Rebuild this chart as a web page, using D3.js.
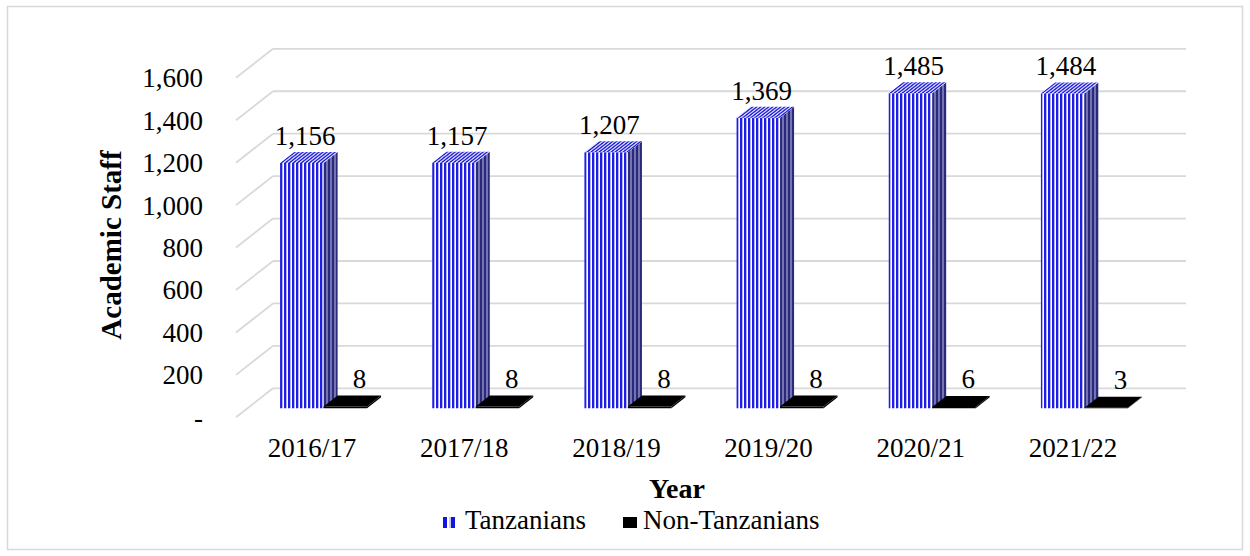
<!DOCTYPE html>
<html>
<head>
<meta charset="utf-8">
<script src="https://cdn.jsdelivr.net/npm/d3@7"></script>
<style>
  body { margin: 0; background: #fff; }
</style>
</head>
<body>
<svg id="chart" width="1250" height="556"></svg>
<script>
// Data
const years = ["2016/17", "2017/18", "2018/19", "2019/20", "2020/21", "2021/22"];
const seriesNames = ["Tanzanians", "Non-Tanzanians"];
const tanzanians = [1156, 1157, 1207, 1369, 1485, 1484];
const nonTanzanians = [8, 8, 8, 8, 6, 3];
const yTicks = [0, 200, 400, 600, 800, 1000, 1200, 1400, 1600];

// Config
const DEPTH_X = -37, DEPTH_Y = 29;        // back wall -> front plane
const Z_BACK = 0.31, Z_FRONT = 0.69;      // bar slab inside the box
const FONT = 27;
const SERIF = "'Liberation Serif', 'Times New Roman', Times, serif";
const GRID = "#d9d9d9";

const svg = d3.select("#chart");

const x = d3.scaleBand().domain(years).range([273, 1186]);
const inner = d3.scaleBand().domain(seriesNames).range([0, x.bandwidth()]).paddingOuter(0.75);
const y = d3.scaleLinear().domain([0, 1600]).range([388.3, 48.8]);

// project (back-wall x, value, depth z) onto the screen
const P = (xb, v, z) => [xb + DEPTH_X * z, y(v) + DEPTH_Y * z];

// Patterns
const defs = svg.append("defs");
const stripes = (id, bg, fg, extra, transform) => {
  const p = defs.append("pattern").attr("id", id)
    .attr("patternUnits", "userSpaceOnUse").attr("width", 4).attr("height", 4);
  if (transform) p.attr("patternTransform", transform);
  p.append("rect").attr("width", 4).attr("height", 4).attr("fill", bg);
  p.append("rect").attr("width", 2).attr("height", 4).attr("fill", fg);
  if (extra) p.append("rect").attr("x", 2).attr("width", 1).attr("height", 4).attr("fill", extra);
};
stripes("front", "#ffffff", "#1e1ee6", "#b4b4f5");
stripes("side", "#7474b4", "#2a2a78", null);
stripes("top", "#d0d0ff", "#2626d8", null, "skewX(-51.9)");

// Border
svg.append("rect").attr("x", 7.5).attr("y", 6.5).attr("width", 1235).attr("height", 543)
  .attr("fill", "none").attr("stroke", GRID).attr("stroke-width", 1.5);

// Gridlines: back wall + left wall
const grid = svg.append("g").attr("stroke", GRID).attr("stroke-width", 1.8).attr("fill", "none");
yTicks.forEach(t => {
  grid.append("line").attr("x1", x.range()[0]).attr("x2", x.range()[1])
    .attr("y1", y(t)).attr("y2", y(t));
  const a = P(x.range()[0], t, 0), b = P(x.range()[0], t, 1);
  grid.append("line").attr("x1", a[0]).attr("y1", a[1]).attr("x2", b[0]).attr("y2", b[1]);
});

// Axes on the front plane
const yFront = y.copy().range(y.range().map(r => r + DEPTH_Y));
const xFront = x.copy().range(x.range().map(r => r + DEPTH_X));

const yAxis = svg.append("g").attr("transform", "translate(203,0)")
  .call(d3.axisLeft(yFront).tickValues(yTicks).tickSize(0).tickPadding(0)
    .tickFormat(d => d === 0 ? "-" : d3.format(",")(d)));
yAxis.select(".domain").remove();
yAxis.selectAll("text").attr("dy", "0.33em");

const xAxis = svg.append("g").attr("transform", "translate(0,438)")
  .call(d3.axisBottom(xFront).tickSize(0).tickPadding(0));
xAxis.select(".domain").remove();

// Bars
const box = (g, xb, w, v, front, side, top) => {
  const p = (xx, vv, z) => P(xx, vv, z).join(",");
  // front face
  g.append("polygon").attr("fill", front)
    .attr("points", [p(xb, 0, Z_FRONT), p(xb + w, 0, Z_FRONT), p(xb + w, v, Z_FRONT), p(xb, v, Z_FRONT)].join(" "));
  // right side face
  g.append("polygon").attr("fill", side)
    .attr("points", [p(xb + w, 0, Z_FRONT), p(xb + w, 0, Z_BACK), p(xb + w, v, Z_BACK), p(xb + w, v, Z_FRONT)].join(" "));
  // top face
  g.append("polygon").attr("fill", top)
    .attr("points", [p(xb, v, Z_FRONT), p(xb + w, v, Z_FRONT), p(xb + w, v, Z_BACK), p(xb, v, Z_BACK)].join(" "));
};

const bars = svg.append("g");
const labels = svg.append("g").attr("text-anchor", "middle");

years.forEach((yr, i) => {
  const g = bars.append("g");
  const xt = x(yr) + inner("Tanzanians");
  const xn = x(yr) + inner("Non-Tanzanians");
  const w = inner.bandwidth();
  box(g, xt, w, tanzanians[i], "url(#front)", "url(#side)", "url(#top)");
  box(g, xn, w, nonTanzanians[i], "#000", "#000", "#000");

  const ft = P(xt, 0, Z_FRONT)[0];
  labels.append("text").attr("x", ft + 25).attr("y", y(tanzanians[i]) + 2)
    .text(d3.format(",")(tanzanians[i]));
  const fn = P(xn, 0, Z_FRONT)[0];
  labels.append("text").attr("x", fn + 36).attr("y", y(nonTanzanians[i]) + 1)
    .text(d3.format(",")(nonTanzanians[i]));
});

// Axis titles
svg.append("text").attr("class", "title").attr("transform", "translate(121,245) rotate(-90)")
  .attr("text-anchor", "middle").text("Academic Staff");
svg.append("text").attr("class", "title").attr("x", 677).attr("y", 498)
  .attr("text-anchor", "middle").text("Year");

// Legend
const legend = svg.append("g");
const sw = legend.append("g").attr("transform", "translate(443,517)");
sw.append("rect").attr("width", 14).attr("height", 11).attr("fill", "#c8c8f8");
[0, 8].forEach(s => {
  sw.append("rect").attr("x", s).attr("width", 4).attr("height", 11).attr("fill", "#1414e0");
  sw.append("rect").attr("x", s + 4).attr("width", 2).attr("height", 11).attr("fill", "#ffffff");
});
legend.append("text").attr("x", 465).attr("y", 529).text(seriesNames[0]);
legend.append("rect").attr("x", 623).attr("y", 517).attr("width", 14).attr("height", 11)
  .attr("fill", "#000");
legend.append("text").attr("x", 643).attr("y", 529).text(seriesNames[1]);

// Typography: force the serif face on every text element
svg.selectAll("text")
  .style("font-family", SERIF).style("font-size", FONT + "px").style("fill", "#000");
svg.selectAll("text.title").style("font-size", "28px").style("font-weight", "bold");
svg.selectAll("text").filter(function () { return this.textContent === "Academic Staff"; })
  .style("font-size", "29px");
</script>
</body>
</html>
